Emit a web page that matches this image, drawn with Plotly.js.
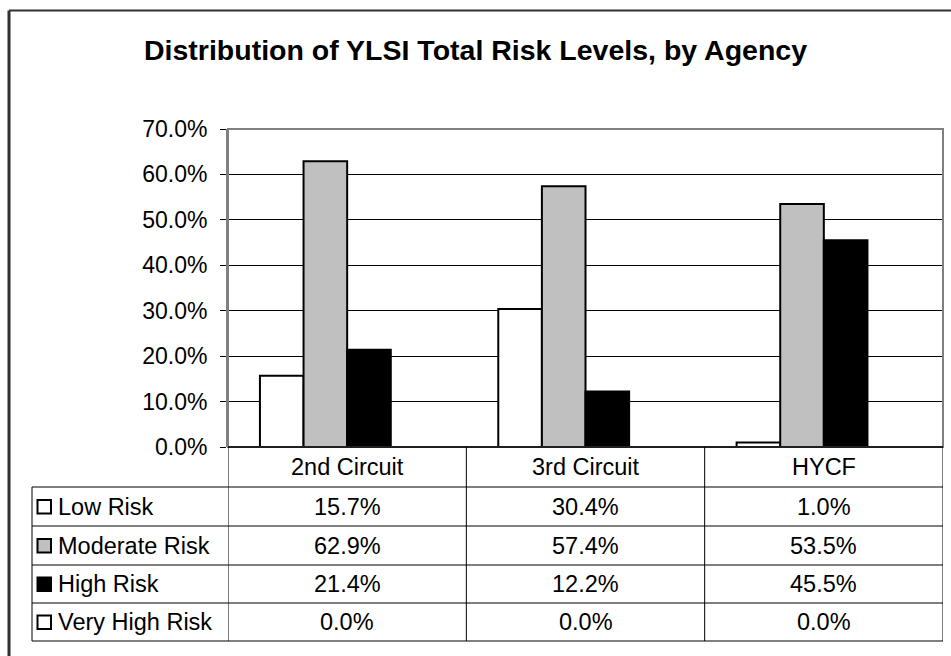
<!DOCTYPE html>
<html>
<head>
<meta charset="utf-8">
<script src="https://cdn.plot.ly/plotly-3.0.1.min.js"></script>
<style>html,body{margin:0;padding:0;background:#fff;}#chart{width:951px;height:656px;}</style>
</head>
<body>
<div id="chart"></div>
<script>
const categories = ['2nd Circuit', '3rd Circuit', 'HYCF'];
const seriesNames = ['Low Risk', 'Moderate Risk', 'High Risk', 'Very High Risk'];
const lowRisk = [15.7, 30.4, 1.0];
const moderateRisk = [62.9, 57.4, 53.5];
const highRisk = [21.4, 12.2, 45.5];
const veryHighRisk = [0.0, 0.0, 0.0];
const seriesColors = ['#FFFFFF', '#C0C0C0', '#000000', '#FFFFFF'];
const yTicks = [0, 10, 20, 30, 40, 50, 60, 70];
const titleText = 'Distribution of YLSI Total Risk Levels, by Agency';

const seriesValues = [lowRisk, moderateRisk, highRisk, veryHighRisk];

// geometry (pixels)
const W = 951, H = 656;
const L = 228, R = 943, T = 129, B = 447;
const PW = R - L, PH = B - T;
const px = x => (x - L) / PW;
const py = y => (B - y) / PH;

const rowLines = [487, 526, 565, 603, 641];
const tableLeft = 32;
const FONT = '"Liberation Sans", Arial, sans-serif';
const FS = 23.5;
const TFS = 23;

const traces = seriesNames.map((name, i) => ({
  type: 'bar',
  name: name,
  x: categories,
  y: seriesValues[i],
  marker: { color: seriesColors[i], line: { color: '#000000', width: 2 } },
  hoverinfo: 'none'
}));

const shapes = [];
const annotations = [];

// outer chart border (left & top visible)
shapes.push({ type: 'line', xref: 'paper', yref: 'paper', x0: px(9), x1: px(960), y0: py(10.5), y1: py(10.5), line: { color: '#303030', width: 2 } });
shapes.push({ type: 'line', xref: 'paper', yref: 'paper', x0: px(9), x1: px(9), y0: py(10.5), y1: py(670), line: { color: '#303030', width: 3 } });

// plot area border
shapes.push({ type: 'rect', xref: 'paper', yref: 'paper', x0: 0, x1: 1, y0: 0, y1: 1, line: { color: '#808080', width: 2 }, layer: 'above' });

// table horizontal lines
shapes.push({ type: 'line', xref: 'paper', yref: 'paper', x0: 0, x1: 1, y0: 0, y1: 0, line: { color: '#000000', width: 1.5 }, layer: 'above' });
rowLines.forEach(y => {
  shapes.push({ type: 'line', xref: 'paper', yref: 'paper', x0: px(tableLeft), x1: 1, y0: py(y), y1: py(y), line: { color: '#000000', width: 1 }, layer: 'above' });
});
// table vertical lines
const colBounds = [-0.5];
categories.forEach((c, i) => colBounds.push(i + 0.5));
colBounds.forEach(b => {
  shapes.push({ type: 'line', xref: 'x', yref: 'paper', x0: b, x1: b, y0: 0, y1: py(rowLines[rowLines.length - 1]), line: { color: '#000000', width: 1 }, layer: 'above' });
});
shapes.push({ type: 'line', xref: 'paper', yref: 'paper', x0: px(tableLeft), x1: px(tableLeft), y0: py(rowLines[0]), y1: py(rowLines[rowLines.length - 1]), line: { color: '#000000', width: 1 }, layer: 'above' });

// header row
const headerMid = (B + rowLines[0]) / 2;
categories.forEach((c, i) => {
  annotations.push({ xref: 'x', yref: 'paper', x: i, y: py(headerMid), text: c, showarrow: false, xanchor: 'center', yanchor: 'middle', font: { family: FONT, size: FS, color: '#000' } });
});

// data rows
seriesNames.forEach((name, r) => {
  const mid = (rowLines[r] + rowLines[r + 1]) / 2;
  // legend key
  shapes.push({ type: 'rect', xref: 'paper', yref: 'paper', x0: px(37.5), x1: px(51), y0: py(mid + 7), y1: py(mid - 6.5), fillcolor: seriesColors[r], line: { color: '#000000', width: 2 }, layer: 'above' });
  annotations.push({ xref: 'paper', yref: 'paper', x: px(56), y: py(mid), text: name, showarrow: false, xanchor: 'left', yanchor: 'middle', font: { family: FONT, size: FS, color: '#000' } });
  seriesValues[r].forEach((v, i) => {
    annotations.push({ xref: 'x', yref: 'paper', x: i, y: py(mid), text: v.toFixed(1) + '%', showarrow: false, xanchor: 'center', yanchor: 'middle', font: { family: FONT, size: FS, color: '#000' } });
  });
});

const layout = {
  width: W, height: H,
  margin: { l: L, r: W - R, t: T, b: H - B, pad: 0 },
  paper_bgcolor: '#ffffff', plot_bgcolor: '#ffffff',
  showlegend: false,
  barmode: 'group',
  bargap: 0.268,
  bargroupgap: 0,
  title: { text: '<b>' + titleText + '</b>', x: 0.5, xref: 'container', xanchor: 'center', y: 1 - 50 / H, yref: 'container', yanchor: 'middle', font: { family: FONT, size: 28.5, color: '#000' } },
  xaxis: { type: 'category', range: [-0.5, categories.length - 0.5], showticklabels: false, ticks: '', showgrid: false, zeroline: false, showline: false, fixedrange: true },
  yaxis: {
    range: [0, 70], tickvals: yTicks, ticktext: yTicks.map(t => t.toFixed(1) + '%'),
    ticks: 'outside', ticklen: 6, tickwidth: 1, tickcolor: '#000',
    ticklabelstandoff: 8,
    showgrid: true, gridcolor: '#000000', gridwidth: 1,
    zeroline: false, showline: true, linecolor: '#808080', linewidth: 2,
    tickfont: { family: FONT, size: TFS, color: '#000' }, fixedrange: true
  },
  shapes: shapes,
  annotations: annotations
};

Plotly.newPlot('chart', traces, layout, { displayModeBar: false, staticPlot: true });
</script>
</body>
</html>
